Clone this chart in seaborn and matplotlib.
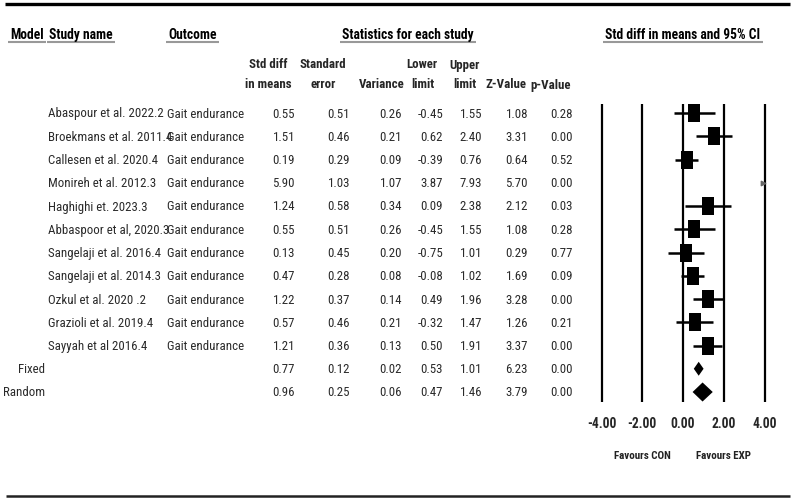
import numpy as np
import pandas as pd
import matplotlib
matplotlib.use("Agg")
import matplotlib.pyplot as plt
from matplotlib import font_manager as fm
import seaborn as sns

# ---- data ----
studies = ["Abaspour et al. 2022.2", "Broekmans et al. 2011.4", "Callesen et al. 2020.4",
           "Monireh et al. 2012.3", "Haghighi et. 2023.3", "Abbaspoor et al, 2020.3",
           "Sangelaji et al. 2016.4", "Sangelaji et al. 2014.3", "Ozkul et al. 2020 .2",
           "Grazioli et al. 2019.4", "Sayyah et al 2016.4"]
outcome = "Gait endurance"
std_diff = [0.55, 1.51, 0.19, 5.90, 1.24, 0.55, 0.13, 0.47, 1.22, 0.57, 1.21]
std_err = [0.51, 0.46, 0.29, 1.03, 0.58, 0.51, 0.45, 0.28, 0.37, 0.46, 0.36]
variance = [0.26, 0.21, 0.09, 1.07, 0.34, 0.26, 0.20, 0.08, 0.14, 0.21, 0.13]
lower = [-0.45, 0.62, -0.39, 3.87, 0.09, -0.45, -0.75, -0.08, 0.49, -0.32, 0.50]
upper = [1.55, 2.40, 0.76, 7.93, 2.38, 1.55, 1.01, 1.02, 1.96, 1.47, 1.91]
z_value = [1.08, 3.31, 0.64, 5.70, 2.12, 1.08, 0.29, 1.69, 3.28, 1.26, 3.37]
p_value = [0.28, 0.00, 0.52, 0.00, 0.03, 0.28, 0.77, 0.09, 0.00, 0.21, 0.00]

models = ["Fixed", "Random"]
pooled_est = [0.77, 0.96]
pooled_se = [0.12, 0.25]
pooled_var = [0.02, 0.06]
pooled_lower = [0.53, 0.47]
pooled_upper = [1.01, 1.46]
pooled_z = [6.23, 3.79]
pooled_p = [0.00, 0.00]

x_ticks = [-4, -2, 0, 2, 4]
favours = ["Favours CON", "Favours EXP"]
favours_x = [-2, 2]

# ---- layout (pixels) ----
W, H = 794, 502
ROW0, STEP = 114, 23.25          # y pixel of first row, row spacing
X0_PX, UNIT = 683, 20.375         # pixel of 0.00 on forest axis, px per unit
XLIM = (-4.6, 4.6)
AX_TOP, AX_BOT = 105, 403


def r(px):
    return (px - ROW0) / STEP


sns.set_theme(style="white")

# pick a narrow sans font if one is installed (reference uses Arial Narrow)
names = {f.name for f in fm.fontManager.ttflist}
dejavu_cond = any(f.name == 'DejaVu Sans' and 'condensed' in str(f.stretch).lower()
                  for f in fm.fontManager.ttflist)
STRETCH = 'normal'
if 'Liberation Sans Narrow' in names:
    FAMILY, FS = 'Liberation Sans Narrow', 9.5
elif 'Roboto Condensed' in names:
    FAMILY, FS = 'Roboto Condensed', 9.3
elif 'Open Sans Condensed' in names:
    FAMILY, FS = 'Open Sans Condensed', 9.0
elif dejavu_cond:
    FAMILY, FS, STRETCH = 'DejaVu Sans', 8.3, 'condensed'
else:
    FAMILY, FS = 'Liberation Sans', 8.0
plt.rcParams['font.family'] = [FAMILY, 'DejaVu Sans']
plt.rcParams['font.stretch'] = STRETCH
HFS = FS * 1.05

fig = plt.figure(figsize=(W / 100, H / 100), dpi=100)

# table axes: x in pixels, y in rows
ax_t = fig.add_axes([0, 0, 1, 1])
ax_t.set_xlim(0, W)
ax_t.set_ylim(r(H), r(0))
ax_t.axis('off')

# forest axes
left_px = X0_PX + XLIM[0] * UNIT
width_px = (XLIM[1] - XLIM[0]) * UNIT
ax_f = fig.add_axes([left_px / W, 1 - AX_BOT / H, width_px / W, (AX_BOT - AX_TOP) / H])
ax_f.set_xlim(*XLIM)
ax_f.set_ylim(r(AX_BOT), r(AX_TOP))
ax_f.patch.set_alpha(0)
for s in ax_f.spines.values():
    s.set_visible(False)
ax_f.set_yticks([])
ax_f.set_xticks(x_ticks)
ax_f.set_xticklabels([f"{t:.2f}" for t in x_ticks], fontweight='bold', fontsize=HFS)
ax_f.tick_params(axis='x', length=0, pad=10)

for t in x_ticks:
    ax_f.axvline(t, color='black', lw=1.6, zorder=1)

df = pd.DataFrame({"study": studies, "est": std_diff, "se": std_err, "var": variance,
                   "lo": lower, "hi": upper, "z": z_value, "p": p_value})
df["row"] = np.arange(len(df))
lim = x_ticks[-1]
df["lo_c"] = df["lo"].clip(-lim, lim)
df["hi_c"] = df["hi"].clip(-lim, lim)

ax_f.hlines(df["row"], df["lo_c"], df["hi_c"], color='black', lw=1.8, zorder=2)
inside = df[(df["est"] > -lim) & (df["est"] < lim)]
box = [(-0.36, -0.5), (0.36, -0.5), (0.36, 0.5), (-0.36, 0.5)]
sns.scatterplot(data=inside, x="est", y="row", marker=box, s=168, color='black',
                linewidth=0, ax=ax_f, legend=False, zorder=3)
out = df[df["hi"] > lim]
ax_f.scatter(np.minimum(out["hi"], lim) - 0.05, out["row"], marker='>', s=10,
             color='#666666', zorder=3)
ax_f.set_xlabel("")
ax_f.set_ylabel("")

pool_rows = len(df) + np.arange(len(models))
half_h = [0.30, 0.41]
for rw, lo, est, hi, h in zip(pool_rows, pooled_lower, pooled_est, pooled_upper, half_h):
    ax_f.fill([lo, est, hi, est], [rw, rw - h, rw, rw + h], color='black', lw=0, zorder=3)

for fx, lab in zip(favours_x, favours):
    ax_f.text(fx, r(456), lab, ha='center', va='center', fontsize=FS * 0.85,
              fontweight='bold', color='#222222', clip_on=False)

# ---- table text ----
TXT = '#2a2a2a'
num_right = [295, 350, 402, 443, 482, 528, 573]
cols = ["est", "se", "var", "lo", "hi", "z", "p"]
for _, row in df.iterrows():
    y = row["row"]
    ax_t.text(48, y, row["study"], ha='left', va='center', fontsize=FS, color=TXT)
    ax_t.text(167, y, outcome, ha='left', va='center', fontsize=FS, color=TXT)
    for xr, c in zip(num_right, cols):
        ax_t.text(xr, y, f"{row[c]:.2f}", ha='right', va='center', fontsize=FS, color=TXT)

for i, m in enumerate(models):
    y = pool_rows[i]
    ax_t.text(45, y, m, ha='right', va='center', fontsize=FS, color=TXT)
    vals = [pooled_est[i], pooled_se[i], pooled_var[i], pooled_lower[i],
            pooled_upper[i], pooled_z[i], pooled_p[i]]
    for xr, v in zip(num_right, vals):
        ax_t.text(xr, y, f"{v:.2f}", ha='right', va='center', fontsize=FS, color=TXT)

# headers
heads = [(10, "Model", 'left'), (49, "Study name", 'left'), (168, "Outcome", 'left'),
         (408, "Statistics for each study", 'center'),
         (683, "Std diff in means and 95% CI", 'center')]
head_texts = []
for hx, ht, ha in heads:
    head_texts.append(ax_t.text(hx, r(35), ht, ha=ha, va='center', fontsize=HFS,
                                fontweight='bold', color='black'))

sub1 = [(268, "Std diff"), (323, "Standard"), (422, "Lower"), (465, "Upper")]
sub2 = [(268, "in means"), (323, "error"), (382, "Variance"), (423, "limit"),
        (465, "limit"), (506, "Z-Value"), (551, "p-Value")]
for sx, st in sub1:
    ax_t.text(sx, r(65), st, ha='center', va='center', fontsize=FS, fontweight='bold')
for sx, st in sub2:
    ax_t.text(sx, r(85), st, ha='center', va='center', fontsize=FS, fontweight='bold')

# rules
ax_t.plot([5, 790], [r(5), r(5)], color='black', lw=2.4, solid_capstyle='butt')
ax_t.plot([6, 790], [r(497), r(497)], color='#222222', lw=1.8, solid_capstyle='butt')

fig.canvas.draw()
inv = ax_t.transData.inverted()
for t in head_texts:
    bb = t.get_window_extent()
    x0 = inv.transform((bb.x0, bb.y0))[0]
    x1 = inv.transform((bb.x1, bb.y0))[0]
    ax_t.plot([x0 - 2, x1 + 2], [r(43), r(43)], color='#999999', lw=1.5,
              solid_capstyle='butt')

fig.savefig("out.png", dpi=100)
